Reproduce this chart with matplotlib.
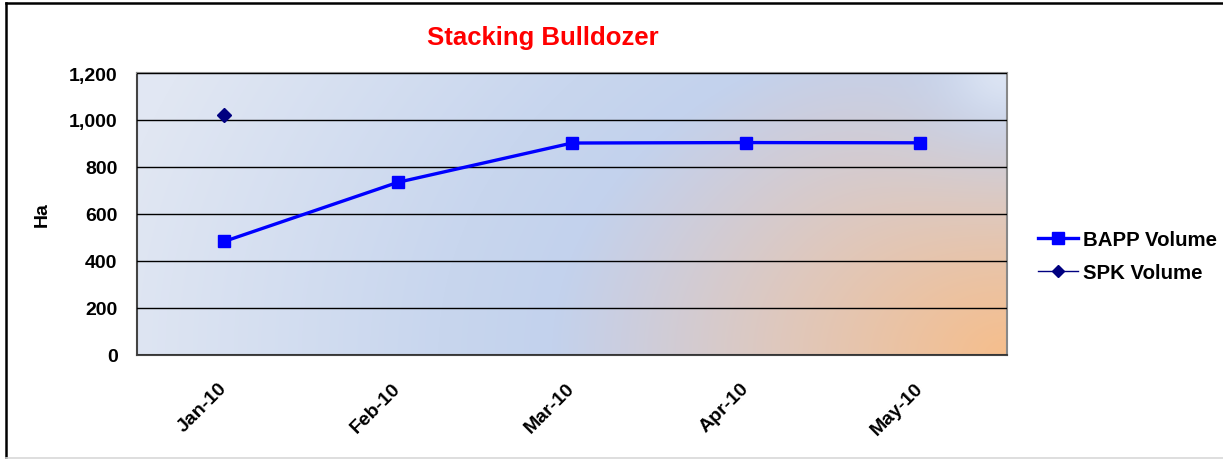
import numpy as np
import matplotlib
matplotlib.use("Agg")
import matplotlib.pyplot as plt
from matplotlib.lines import Line2D

plt.rcParams['font.family'] = ['Liberation Sans', 'DejaVu Sans']
plt.rcParams['font.weight'] = 'bold'

categories = ["Jan-10", "Feb-10", "Mar-10", "Apr-10", "May-10"]
bapp_volume = [483, 735, 902, 904, 903]
spk_volume = [1020, None, None, None, None]
y_ticks = [0, 200, 400, 600, 800, 1000, 1200]
title = "Stacking Bulldozer"
y_label = "Ha"

W, H = 1223, 460
fig = plt.figure(figsize=(W / 100, H / 100), dpi=100)
fig.patch.set_facecolor('white')

# figure border: top and left dark, bottom light grey, no right edge
fig.add_artist(Line2D([5.5 / W, 5.5 / W], [1 - 3.5 / H, 1 - 459 / H], transform=fig.transFigure,
                      color='black', linewidth=1.8, zorder=10))
fig.add_artist(Line2D([5.5 / W, 1.0], [1 - 3.5 / H, 1 - 3.5 / H], transform=fig.transFigure,
                      color='black', linewidth=1.8, zorder=10))
fig.add_artist(Line2D([5.5 / W, 1.0], [1 - 459 / H, 1 - 459 / H], transform=fig.transFigure,
                      color='#d8d8d8', linewidth=1.2, zorder=10))

L, R, T, B = 137, 1007, 74, 356
ax = fig.add_axes([L / W, 1 - B / H, (R - L) / W, (B - T) / H])

x = np.arange(len(categories))
ax.set_xlim(-0.5, len(categories) - 0.5)
ax.set_ylim(0, 1200)

# gradient background (from bottom-right corner)
pw, ph = R - L, B - T
gx, gy = np.meshgrid(np.arange(pw) + 0.5, np.arange(ph) + 0.5)
dx = (pw - gx) / 455.0
dy = (ph - gy) / 340.0
r = np.sqrt(dx ** 2 + dy ** 2)
stops = [0.0, 0.5, 0.85, 1.0, 1.25, 2.0]
cols = np.array([
    [0xf6, 0xbe, 0x8c],
    [0xdf, 0xc8, 0xbd],
    [0xcb, 0xce, 0xe0],
    [0xc3, 0xd2, 0xed],
    [0xc8, 0xd6, 0xee],
    [0xe1, 0xe7, 0xf3],
]) / 255.0
img = np.zeros((ph, pw, 3))
for c in range(3):
    img[..., c] = np.interp(r, stops, cols[:, c])
# softer light corner at top right with a blue halo
d = np.sqrt((pw - gx) ** 2 + (1.25 * gy) ** 2)
wb = 0.85 * np.exp(-(d / 130.0) ** 2)
wl = np.exp(-(d / 55.0) ** 2)
blue = np.array([0xc3, 0xd2, 0xed]) / 255.0
light = np.array([0xdc, 0xe4, 0xf3]) / 255.0
img = img * (1 - wb[..., None]) + blue * wb[..., None]
img = img * (1 - wl[..., None]) + light * wl[..., None]
ax.imshow(img, extent=(-0.5, len(categories) - 0.5, 0, 1200), aspect='auto',
          origin='upper', zorder=0, interpolation='bilinear')

ax.set_yticks(y_ticks)
ax.set_yticklabels([f"{v:,}" for v in y_ticks], fontsize=14, fontweight='bold')
ax.yaxis.grid(True, color='black', linewidth=1.0, zorder=1)
ax.set_axisbelow(False)
ax.set_xticks(x)
ax.set_xticklabels(categories, fontsize=14, fontweight='bold', rotation=45,
                   ha='right', va='center', rotation_mode='anchor')
ax.tick_params(axis='both', length=0)
ax.tick_params(axis='x', pad=22)
ax.tick_params(axis='y', pad=14)

for s in ['top', 'right']:
    ax.spines[s].set_color('#888888')
    ax.spines[s].set_linewidth(1.5)
for s in ['left', 'bottom']:
    ax.spines[s].set_color('#444444')
    ax.spines[s].set_linewidth(1.5)

ax.plot(x, bapp_volume, color='#0000FF', linewidth=2.4, marker='s', markersize=8,
        zorder=5, clip_on=False)
spk = np.array([np.nan if v is None else v for v in spk_volume], dtype=float)
ax.plot(x, spk, color='#000080', linewidth=1.0, marker='D', markersize=7,
        zorder=5, clip_on=False)

ax.set_ylabel(y_label, fontsize=14, fontweight='bold')
ax.yaxis.set_label_coords((51 - L) / (R - L), (B - 215) / (B - T))

fig.text(543 / W, 1 - 38 / H, title, color='#FF0000', fontsize=18.5,
         fontweight='bold', ha='center', va='center')

handles = [
    Line2D([0], [0], color='#0000FF', linewidth=2.4, marker='s', markersize=8),
    Line2D([0], [0], color='#000080', linewidth=1.0, marker='D', markersize=6),
]
fig.legend(handles, ["BAPP Volume", "SPK Volume"], loc='center left',
           bbox_to_anchor=(1038 / W, 1 - 257 / H), frameon=False,
           prop={'size': 14.7, 'weight': 'bold'}, handlelength=1.95,
           handletextpad=0.25, labelspacing=0.7, borderaxespad=0, borderpad=0)

fig.savefig('out.png', dpi=100, facecolor='white')
